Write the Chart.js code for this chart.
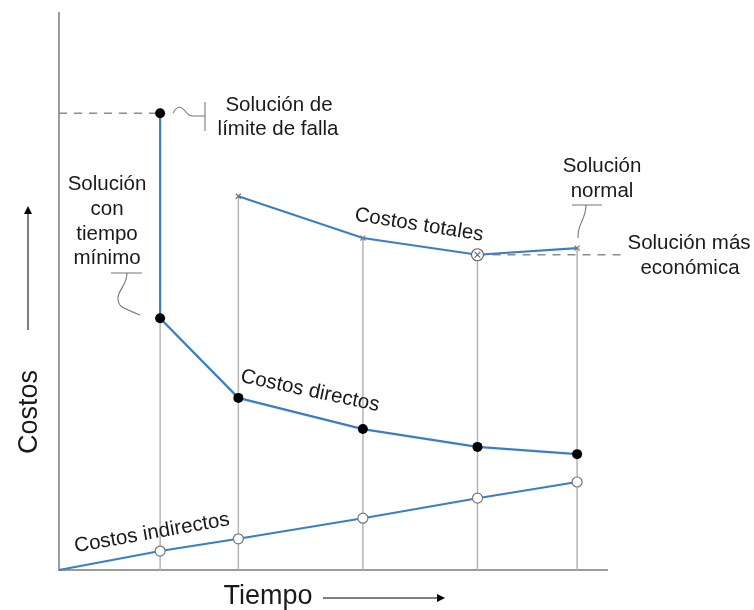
<!DOCTYPE html>
<html>
<head>
    <title>Costos vs Tiempo</title>
    <script src="https://cdn.jsdelivr.net/npm/chart.js"></script>
    <style>
        body { margin: 0; background: #fff; }
    </style>
</head>
<body>
    <canvas id="grafikCostos" width="754" height="610"></canvas>
</body>
<script>
    // datos (unidades arbitrarias)
    const tiempos = [2.03, 3.6, 6.1, 8.4, 10.4];

    const tiemposDirectos = [2.03, 2.03, 3.6, 6.1, 8.4, 10.4];
    const costosDirectos = [82, 45.2, 30.9, 25.3, 22.1, 20.8];

    const tiemposTotales = [3.6, 6.1, 8.4, 10.4];
    const costosTotales = [67.1, 59.6, 56.6, 57.8];
    const indiceEconomico = 2;

    const tiemposIndirectos = [0, 2.03, 3.6, 6.1, 8.4, 10.4];
    const costosIndirectos = [0, 3.4, 5.6, 9.3, 12.9, 15.8];

    const limiteFalla = 82;
    const finLineaEconomica = 11.4;

    const azul = '#3a7ec8';
    const gris = '#b5b5b5';
    const texto = '#1a1a1a';

    const ctx = document.getElementById('grafikCostos').getContext('2d');

    function toPoints(xs, ys) {
        return xs.map((x, i) => ({ x: x, y: ys[i] }));
    }

    // lineas verticales grises hasta el punto mas alto de cada tiempo
    const guias = tiempos.map(t => {
        let top = 0;
        tiemposDirectos.forEach((x, i) => {
            if (x === t && i > 0) top = Math.max(top, costosDirectos[i]);
        });
        tiemposTotales.forEach((x, i) => {
            if (x === t) top = Math.max(top, costosTotales[i]);
        });
        return {
            data: [{ x: t, y: 0 }, { x: t, y: top }],
            borderColor: gris,
            borderWidth: 1.5,
            pointRadius: 0,
            showLine: true,
            clip: false,
            order: 10
        };
    });

    const xEco = tiemposTotales[indiceEconomico];
    const yEco = costosTotales[indiceEconomico];

    const datasets = [
        ...guias,
        {
            // limite de falla
            data: [{ x: 0, y: limiteFalla }, { x: tiemposDirectos[0], y: limiteFalla }],
            borderColor: '#8c8c8c',
            borderWidth: 1.3,
            borderDash: [8, 7],
            pointRadius: 0,
            showLine: true,
            clip: false,
            order: 9
        },
        {
            // solucion mas economica
            data: [{ x: xEco, y: yEco }, { x: finLineaEconomica, y: yEco }],
            borderColor: '#8c8c8c',
            borderWidth: 1.3,
            borderDash: [8, 7],
            pointRadius: 0,
            showLine: true,
            clip: false,
            order: 9
        },
        {
            label: 'Costos indirectos',
            data: toPoints(tiemposIndirectos, costosIndirectos),
            borderColor: azul,
            borderWidth: 2,
            showLine: true,
            pointRadius: tiemposIndirectos.map((x, i) => i === 0 ? 0 : 5),
            pointBackgroundColor: '#ffffff',
            pointBorderColor: '#777777',
            pointBorderWidth: 1.2,
            clip: false,
            order: 3
        },
        {
            label: 'Costos directos',
            data: toPoints(tiemposDirectos, costosDirectos),
            borderColor: azul,
            borderWidth: 2.2,
            showLine: true,
            pointRadius: 5,
            pointBackgroundColor: '#000000',
            pointBorderColor: '#000000',
            pointBorderWidth: 0,
            clip: false,
            order: 3
        },
        {
            label: 'Costos totales',
            data: toPoints(tiemposTotales, costosTotales),
            borderColor: azul,
            borderWidth: 2.2,
            showLine: true,
            pointStyle: 'crossRot',
            pointRadius: tiemposTotales.map((x, i) => i === indiceEconomico ? 0 : 3.5),
            pointBorderColor: '#777777',
            pointBorderWidth: 1.2,
            clip: false,
            order: 3
        },
        {
            data: [{ x: xEco, y: yEco }],
            showLine: false,
            pointRadius: 6,
            pointBackgroundColor: '#ffffff',
            pointBorderColor: '#666666',
            pointBorderWidth: 1.2,
            clip: false,
            order: 2
        },
        {
            data: [{ x: xEco, y: yEco }],
            showLine: false,
            pointStyle: 'crossRot',
            pointRadius: 4,
            pointBorderColor: '#666666',
            pointBorderWidth: 1.2,
            clip: false,
            order: 1
        }
    ];

    function textoRotado(c, str, x, y, ang) {
        c.save();
        c.translate(x, y);
        c.rotate(ang * Math.PI / 180);
        c.fillText(str, 0, 0);
        c.restore();
    }

    const anotaciones = {
        id: 'anotaciones',
        afterDraw(chart) {
            const c = chart.ctx;
            c.save();
            c.fillStyle = texto;
            c.textAlign = 'center';
            c.textBaseline = 'middle';
            c.font = '20.5px "Liberation Sans", Arial, sans-serif';

            c.fillText('Solución de', 279, 105);
            c.fillText('límite de falla', 278, 129);

            c.fillText('Solución', 107, 184);
            c.fillText('con', 107, 209);
            c.fillText('tiempo', 107, 234);
            c.fillText('mínimo', 107, 258);

            c.fillText('Solución', 602, 166);
            c.fillText('normal', 602, 191);

            c.fillText('Solución más', 689, 243);
            c.fillText('económica', 690, 268);

            textoRotado(c, 'Costos totales', 419, 225, 9);
            textoRotado(c, 'Costos directos', 310, 391, 12);
            textoRotado(c, 'Costos indirectos', 152, 533, -10);

            c.font = '27px "Liberation Sans", Arial, sans-serif';
            c.fillText('Tiempo', 268, 597);
            textoRotado(c, 'Costos', 30, 412, -90);

            // lineas guia de las etiquetas
            c.strokeStyle = '#777777';
            c.lineWidth = 1.1;
            c.beginPath();
            c.moveTo(173, 113);
            c.bezierCurveTo(178, 104, 182, 107, 186, 112);
            c.bezierCurveTo(188, 115, 190, 116, 193, 116);
            c.lineTo(205, 116);
            c.moveTo(205, 102);
            c.lineTo(205, 131);

            c.moveTo(111, 273);
            c.lineTo(142, 273);
            c.moveTo(127, 273);
            c.bezierCurveTo(127, 285, 118, 290, 118, 298);
            c.bezierCurveTo(118, 306, 120, 307, 140, 315);

            c.moveTo(572, 205);
            c.lineTo(602, 205);
            c.moveTo(586, 205);
            c.bezierCurveTo(586, 220, 577, 224, 578, 238);
            c.stroke();

            // flechas de los ejes
            c.strokeStyle = '#000000';
            c.fillStyle = '#000000';
            c.lineWidth = 1;
            c.beginPath();
            c.moveTo(28, 330);
            c.lineTo(28, 213);
            c.moveTo(323, 598);
            c.lineTo(438, 598);
            c.stroke();
            c.beginPath();
            c.moveTo(28, 206);
            c.lineTo(24, 214);
            c.lineTo(32, 214);
            c.closePath();
            c.fill();
            c.beginPath();
            c.moveTo(445, 598);
            c.lineTo(437, 594);
            c.lineTo(437, 602);
            c.closePath();
            c.fill();
            c.restore();
        }
    };

    var grafik = new Chart(ctx, {
        type: 'scatter',
        data: { datasets: datasets },
        options: {
            responsive: false,
            animation: false,
            layout: {
                padding: { left: 59, top: 13, right: 147, bottom: 40 }
            },
            scales: {
                x: {
                    type: 'linear',
                    min: 0,
                    max: 11,
                    ticks: { display: false },
                    grid: { display: false, drawTicks: false },
                    border: { display: true, color: '#9c9c9c', width: 2 }
                },
                y: {
                    type: 'linear',
                    min: 0,
                    max: 100,
                    ticks: { display: false },
                    grid: { display: false, drawTicks: false },
                    border: { display: true, color: '#9c9c9c', width: 2 }
                }
            },
            plugins: {
                legend: { display: false },
                tooltip: { enabled: false }
            }
        },
        plugins: [anotaciones]
    });
</script>
</html>
